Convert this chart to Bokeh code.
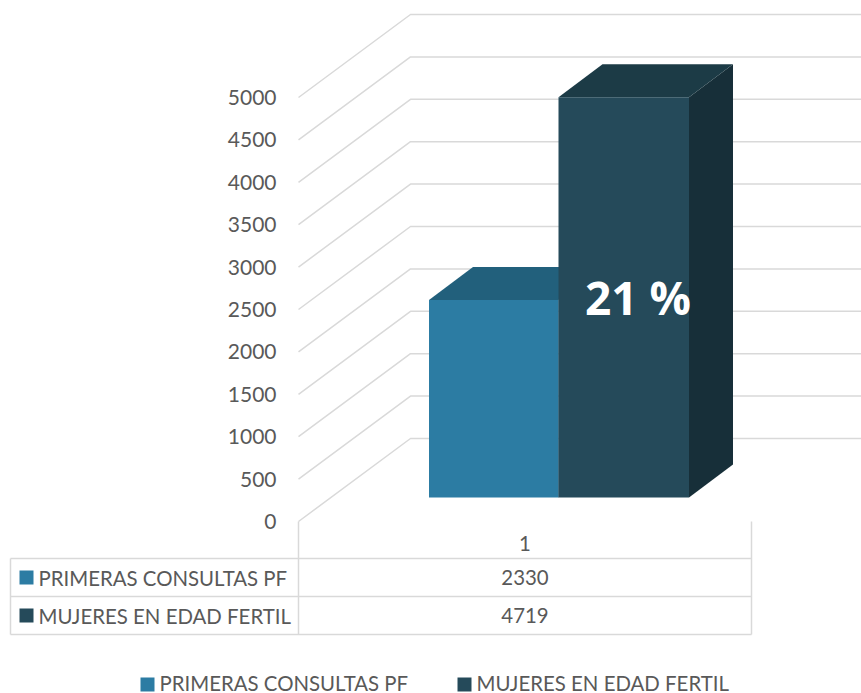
from bokeh.plotting import figure
from bokeh.models import FixedTicker, Range1d
from bokeh.core.properties import value
from bokeh.embed import file_html
from bokeh.resources import INLINE

series = ["PRIMERAS CONSULTAS PF", "MUJERES EN EDAD FERTIL"]
values = [2330, 4719]
category = "1"
ticks = [0, 500, 1000, 1500, 2000, 2500, 3000, 3500, 4000, 4500, 5000]
note = "21 %"

FRONT = ["#2C7CA3", "#254A5A"]
TOP = ["#22607C", "#1C3B46"]
SIDE = ["#1B4D64", "#172F39"]
GRID = "#D9D9D9"
TXT = "#595959"
FONT = value("Lato")
FS = "20.4px"

W, H = 861, 693
SCALE = 0.0848      # px per unit
Y0 = 521            # pixel row of value 0


def v2(px):         # pixel row -> value
    return (Y0 - px) / SCALE


p = figure(width=W, height=H, output_backend="svg", toolbar_location=None,
           x_range=Range1d(0, W), y_range=Range1d(v2(H), v2(0)),
           min_border=0, outline_line_color=None, background_fill_color="white")
p.xaxis.visible = False
p.grid.visible = False
p.yaxis.fixed_location = 287
p.yaxis.ticker = FixedTicker(ticks=ticks)
p.yaxis.axis_line_color = None
p.yaxis.major_tick_line_color = None
p.yaxis.minor_tick_line_color = None
p.yaxis.major_label_text_font = "Lato"
p.yaxis.major_label_text_font_size = "21px"
p.yaxis.major_label_text_color = TXT

# walls
DX, DY = 112, 83 / SCALE
for t in ticks:
    p.line([298, 298 + DX, W], [t, t + DY, t + DY], line_color=GRID, line_width=1.5)

# bars
x_edges = [428.5, 558, 688.5]
BAR_DX, BAR_DY = 44, 33 / SCALE
BASE = (Y0 - 497) / SCALE
for i, v in enumerate(values):
    x0, x1 = x_edges[i], x_edges[i + 1]
    top = BASE + v
    p.patch([x1, x1 + BAR_DX, x1 + BAR_DX, x1],
            [BASE, BASE + BAR_DY, top + BAR_DY, top], fill_color=SIDE[i], line_color=None)
    p.patch([x0, x0 + BAR_DX, x1 + BAR_DX, x1],
            [top, top + BAR_DY, top + BAR_DY, top], fill_color=TOP[i], line_color=None)
    p.quad(left=x0, right=x1, bottom=BASE, top=top, fill_color=FRONT[i], line_color=None)

p.text([637.5], [v2(296)], text=[note], text_font=value("Open Sans"), text_font_style="bold",
       text_font_size="46px", text_color="white", text_align="center", text_baseline="middle")

# data table
T = [v2(558), v2(596), v2(634)]
XL, XM, XR = 10, 298, 751
for ty in T:
    p.line([XL, XR], [ty, ty], line_color=GRID, line_width=1.5)
p.line([XL, XL], [T[0], T[2]], line_color=GRID, line_width=1.5)
p.line([XM, XM], [0, T[2]], line_color=GRID, line_width=1.5)
p.line([XR, XR], [0, T[2]], line_color=GRID, line_width=1.5)
p.text([(XM + XR) / 2], [v2(543)], text=[category], text_font=FONT, text_font_size=FS,
       text_color=TXT, text_align="center", text_baseline="middle")
for i, (name, v) in enumerate(zip(series, values)):
    cy = 577 + 38 * i
    p.quad(left=19, right=33, top=v2(cy - 7), bottom=v2(cy + 7), fill_color=FRONT[i], line_color=None)
    p.text([38], [v2(cy)], text=[name], text_font=FONT, text_font_size=FS,
           text_color=TXT, text_align="left", text_baseline="middle")
    p.text([(XM + XR) / 2], [v2(cy)], text=[str(v)], text_font=FONT, text_font_size=FS,
           text_color=TXT, text_align="center", text_baseline="middle")

# legend
for i, (name, lx) in enumerate(zip(series, [140, 457])):
    p.quad(left=lx, right=lx + 14, top=v2(677), bottom=v2(691), fill_color=FRONT[i], line_color=None)
    p.text([lx + 19], [v2(682)], text=[name], text_font=FONT, text_font_size=FS,
           text_color=TXT, text_align="left", text_baseline="middle")

open("out.html", "w").write(file_html(p, INLINE))
